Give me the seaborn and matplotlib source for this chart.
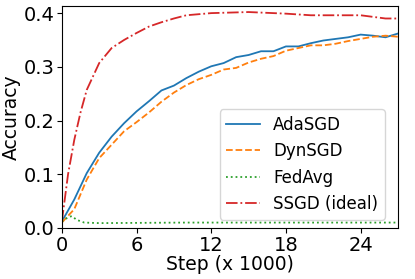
import matplotlib
matplotlib.use("Agg")
import matplotlib.pyplot as plt
import seaborn as sns

# Step (x 1000) and accuracy values
steps = [0, 1, 2, 3, 4, 5, 6, 7, 8, 9, 10, 11, 12, 13, 14, 15, 16, 17, 18,
         19, 20, 21, 22, 23, 24, 25, 26, 27]
ada_sgd = [0.012, 0.053, 0.102, 0.14, 0.17, 0.195, 0.217, 0.236, 0.256, 0.265,
           0.279, 0.291, 0.301, 0.307, 0.318, 0.322, 0.329, 0.329, 0.338, 0.338,
           0.344, 0.349, 0.352, 0.355, 0.36, 0.358, 0.355, 0.362]
dyn_sgd = [0.01, 0.035, 0.09, 0.13, 0.155, 0.18, 0.197, 0.215, 0.235, 0.252,
           0.266, 0.277, 0.285, 0.295, 0.298, 0.308, 0.315, 0.32, 0.33, 0.335,
           0.34, 0.34, 0.343, 0.348, 0.352, 0.356, 0.358, 0.356]

ssgd_steps = [0, 0.5, 1, 1.5, 2, 3, 4, 5, 6, 7, 8, 9, 10, 12, 15, 18, 20, 24, 26, 27]
ssgd = [0.012, 0.1, 0.164, 0.215, 0.257, 0.307, 0.335, 0.35, 0.363, 0.375,
        0.383, 0.39, 0.396, 0.4, 0.402, 0.399, 0.396, 0.396, 0.39, 0.39]

fedavg_steps = [0, 0.5, 0.8, 1.2, 1.8, 3, 10, 20, 27]
fedavg = [0.012, 0.02, 0.022, 0.015, 0.01, 0.009, 0.01, 0.01, 0.01]

fig, ax = plt.subplots(figsize=(4.15, 2.79), dpi=100)
fig.subplots_adjust(left=0.149, right=0.959, top=0.978, bottom=0.183)

sns.lineplot(x=steps, y=ada_sgd, ax=ax, color="#1f77b4", lw=1.3, label="AdaSGD")
sns.lineplot(x=steps, y=dyn_sgd, ax=ax, color="#ff7f0e", lw=1.3, linestyle="--", label="DynSGD")
sns.lineplot(x=fedavg_steps, y=fedavg, ax=ax, color="#2ca02c", lw=1.3, linestyle=":", label="FedAvg")
sns.lineplot(x=ssgd_steps, y=ssgd, ax=ax, color="#d62728", lw=1.3, linestyle="-.", label="SSGD (ideal)")

ax.set_xlim(0, 27)
ax.set_ylim(0, 0.413)
ax.set_xticks([0, 6, 12, 18, 24])
ax.set_yticks([0.0, 0.1, 0.2, 0.3, 0.4])
ax.tick_params(labelsize=14, pad=2)
ax.set_xlabel("Step (x 1000)", fontsize=13.5, labelpad=0)
ax.set_ylabel("Accuracy", fontsize=13.5, labelpad=2)
ax.legend(fontsize=12, loc="lower right", bbox_to_anchor=(0.985, 0.0),
          handlelength=2.0, labelspacing=0.5)

fig.savefig("out.png")
